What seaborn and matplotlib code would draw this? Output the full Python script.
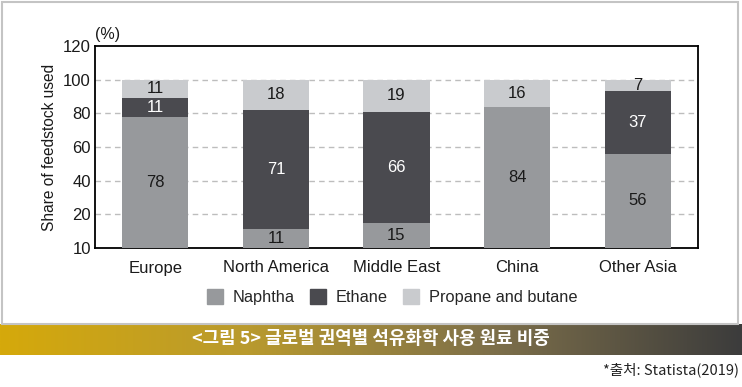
import numpy as np
import pandas as pd
import seaborn as sns
import matplotlib.pyplot as plt
from matplotlib.colors import LinearSegmentedColormap
from matplotlib.patches import Rectangle

regions = ["Europe", "North America", "Middle East", "China", "Other Asia"]
naphtha = [78, 11, 15, 84, 56]
ethane = [11, 71, 66, 0, 37]
propane = [11, 18, 19, 16, 7]
ytick_values = [0, 20, 40, 60, 80, 100, 120]
ytick_labels = ["10", "20", "40", "60", "80", "100", "120"]

title_kr = "<그림 5> 글로벌 권역별 석유화학 사용 원료 비중"
source_kr = "*출처: Statista(2019)"

c_naphtha = "#97999c"
c_ethane = "#4a4a4f"
c_propane = "#c9cbce"

sns.set_style("white")
plt.rcParams["font.family"] = ["Liberation Sans", "Noto Sans CJK KR", "DejaVu Sans"]

df = pd.DataFrame({"region": regions, "naphtha": naphtha,
                   "ethane": ethane, "propane": propane})
df["lvl2"] = df.naphtha + df.ethane
df["lvl3"] = df.lvl2 + df.propane

fig = plt.figure(figsize=(7.42, 3.87), dpi=100)
ax = fig.add_axes([95/742, 1 - 248/387, 603/742, 202/387])

# stacked bars: draw cumulative totals from the top layer down
sns.barplot(data=df, x="region", y="lvl3", color=c_propane, width=0.55,
            saturation=1, linewidth=0, ax=ax, zorder=2)
sns.barplot(data=df, x="region", y="lvl2", color=c_ethane, width=0.55,
            saturation=1, linewidth=0, ax=ax, zorder=3)
sns.barplot(data=df, x="region", y="naphtha", color=c_naphtha, width=0.55,
            saturation=1, linewidth=0, ax=ax, zorder=4)

# segment labels
for i, r in df.iterrows():
    ax.text(i, r.naphtha / 2, str(r.naphtha), ha="center", va="center",
            fontsize=12, color="#1a1a1a", zorder=5)
    if r.ethane > 0:
        ax.text(i, r.naphtha + r.ethane / 2, str(r.ethane), ha="center",
                va="center", fontsize=12, color="white", zorder=5)
    ax.text(i, r.lvl2 + r.propane / 2, str(r.propane), ha="center",
            va="center", fontsize=12, color="#1a1a1a", zorder=5)

ax.set_ylim(0, 120)
ax.set_xlim(-0.5, 4.5)
ax.set_yticks(ytick_values)
ax.set_yticklabels(ytick_labels)
ax.tick_params(axis="both", length=0, labelsize=12, colors="#1a1a1a")
ax.tick_params(axis="x", pad=9)
ax.tick_params(axis="y", pad=3)
for v in ytick_values[1:-1]:
    ax.axhline(v, color="#bdbdbd", lw=1, ls=(0, (4, 3)), zorder=1)
for s in ax.spines.values():
    s.set_color("black")
    s.set_linewidth(1.3)
ax.set_xlabel("")
ax.set_ylabel("Share of feedstock used", fontsize=11.2, color="#1a1a1a", labelpad=4)
ax.text(0, 1.02, "(%)", transform=ax.transAxes, fontsize=11.5, color="#1a1a1a",
        ha="left", va="bottom")

# legend
handles = [Rectangle((0, 0), 1, 1, color=c) for c in (c_naphtha, c_ethane, c_propane)]
fig.legend(handles, ["Naphtha", "Ethane", "Propane and butane"], ncol=3,
           loc="center", bbox_to_anchor=(392/742, 1 - 297/387), frameon=False,
           fontsize=11.8, handlelength=1.0, handleheight=1.0, handletextpad=0.6,
           columnspacing=0.9)

# outer frame
fig.patches.append(Rectangle((2/742, 1 - 324/387), 736/742, 322/387,
                             transform=fig.transFigure, fill=False,
                             edgecolor="#c4c4c4", lw=1.5))

# gradient banner
bax = fig.add_axes([0, 1 - 355/387, 1, 31/387])
cmap = LinearSegmentedColormap.from_list(
    "banner", ["#d5a90b", "#b99a2e", "#7d6f4a", "#3c3c3c"])
bax.imshow(np.linspace(0, 1, 256)[None, :], aspect="auto", cmap=cmap,
           extent=[0, 1, 0, 1])
bax.set_axis_off()
bax.text(0.5, 0.5, title_kr, ha="center", va="center", color="white",
         fontsize=12.9, fontweight="bold", family=["Noto Sans CJK KR", "DejaVu Sans"])

fig.text(739/742, 1 - 370/387, source_kr, ha="right", va="center",
         fontsize=10.5, color="#222222", family=["Noto Sans CJK KR", "DejaVu Sans"])

fig.savefig("out.png", dpi=100)
